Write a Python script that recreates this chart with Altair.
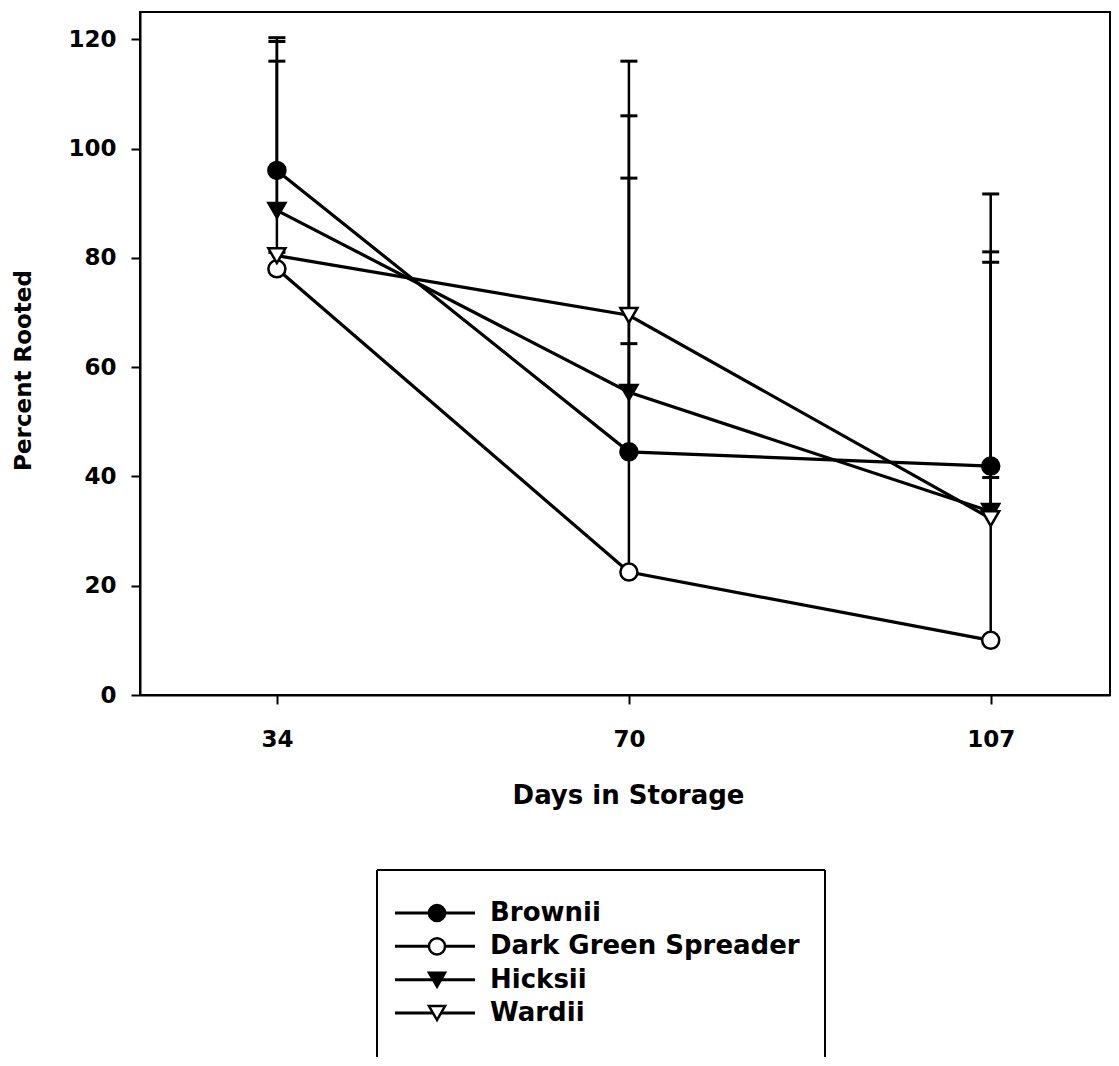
import altair as alt
import pandas as pd

# ---- data ----
names = ["Brownii", "Dark Green Spreader", "Hicksii", "Wardii"]
days = [34, 70, 107]
brownii = [96.0, 44.5, 41.9]
dgs = [78.0, 22.5, 10.0]
hicksii = [88.7, 55.4, 33.6]
wardii = [80.4, 69.5, 32.3]
brownii_hi = [120.3, 116.0, 91.7]
dgs_hi = [81.0, 64.3, 39.8]
hicksii_hi = [119.6, 106.0, 81.1]
wardii_hi = [116.0, 94.6, 79.2]
y_ticks = [0, 20, 40, 60, 80, 100, 120]
shapes = ["circle", "circle", "triangle-down", "triangle-down"]
fills = ["black", "white", "black", "white"]

series = [brownii, dgs, hicksii, wardii]
uppers = [brownii_hi, dgs_hi, hicksii_hi, wardii_hi]
rows = []
for n, vals, ups in zip(names, series, uppers):
    for d, v, u in zip(days, vals, ups):
        rows.append({"name": n, "day": d, "value": v, "upper": u})
df = pd.DataFrame(rows)
leg_df = pd.DataFrame({"name": names})
one = pd.DataFrame({"k": [0]})

FONT = "DejaVu Sans"
W, H = 970, 683

xscale = alt.Scale(domain=[20, 119.2], nice=False, zero=False)
yscale = alt.Scale(domain=[0, 125], nice=False, zero=True)
xaxis = alt.Axis(values=days, title="Days in Storage", labelPadding=24,
                 titleFontSize=26, titleX=488, titleY=100,
                 titleBaseline="middle", titleAlign="center")
yaxis = alt.Axis(values=y_ticks, title="Percent Rooted", labelPadding=15,
                 titleFontSize=23, titleX=-117, titleY=358, titleAngle=-90,
                 titleAlign="center", titleBaseline="middle")


def X(f):
    return alt.X(f, scale=xscale, axis=xaxis)


def Y(f):
    return alt.Y(f, scale=yscale, axis=yaxis)


shape_enc = alt.Shape("name:N", scale=alt.Scale(domain=names, range=shapes), legend=None)
fill_enc = alt.Fill("name:N", scale=alt.Scale(domain=names, range=fills), legend=None)

base = alt.Chart(df)
err_rule = base.mark_rule(color="black", strokeWidth=2.5).encode(
    x=X("day:Q"), y=Y("value:Q"), y2="upper:Q", detail="name:N")
err_cap = base.mark_tick(color="black", orient="horizontal", size=17,
                         thickness=3, opacity=1).encode(
    x=X("day:Q"), y=Y("upper:Q"), detail="name:N")
lines = base.mark_line(color="black", strokeWidth=3.2).encode(
    x=X("day:Q"), y=Y("value:Q"), detail="name:N", order="day:Q")
pts = base.mark_point(stroke="black", strokeWidth=2.5, size=290, opacity=1,
                      fillOpacity=1, strokeOpacity=1).encode(
    x=X("day:Q"), y=Y("value:Q"), shape=shape_enc, fill=fill_enc)

main = alt.layer(err_rule, err_cap, lines, pts)

# ---- legend (drawn below the plot) ----
ly = alt.Y("name:N", scale=alt.Scale(type="point", domain=names, range=[901, 1001], padding=0),
           axis=None)
lbase = alt.Chart(leg_df)
leg_lines = lbase.mark_rule(color="black", strokeWidth=3).encode(
    x=alt.value(255), x2=alt.value(335), y=ly)
leg_pts = lbase.mark_point(stroke="black", strokeWidth=2.5, size=260, opacity=1,
                           fillOpacity=1, strokeOpacity=1).encode(
    x=alt.value(297), y=ly, shape=shape_enc, fill=fill_enc)
leg_text = lbase.mark_text(align="left", baseline="middle", font=FONT,
                           fontWeight="bold", fontSize=26, color="black").encode(
    x=alt.value(350), y=ly, text="name:N")
ob = alt.Chart(one)
box_l = ob.mark_rule(color="black", strokeWidth=2).encode(
    x=alt.value(237), y=alt.value(858), y2=alt.value(1046))
box_t = ob.mark_rule(color="black", strokeWidth=2).encode(
    x=alt.value(237), x2=alt.value(685), y=alt.value(858))
box_r = ob.mark_rule(color="black", strokeWidth=2).encode(
    x=alt.value(685), y=alt.value(858), y2=alt.value(1046))

legend = alt.layer(box_l, box_t, box_r, leg_lines, leg_pts, leg_text)

chart = alt.layer(main, legend).resolve_scale(y="independent").properties(
    width=W, height=H,
    autosize=alt.AutoSizeParams(type="none"),
    padding={"left": 132, "top": 4, "right": 1, "bottom": 362},
    background="white",
).configure_view(
    stroke="black", strokeWidth=2
).configure_axis(
    grid=False, domainColor="black", domainWidth=2, tickColor="black",
    tickWidth=2, tickSize=9, labelFont=FONT, labelFontSize=23,
    labelFontWeight="bold", labelColor="black", titleFont=FONT,
    titleFontWeight="bold", titleColor="black",
)

chart.save("out.html", embed_options={"renderer": "svg", "actions": False})
